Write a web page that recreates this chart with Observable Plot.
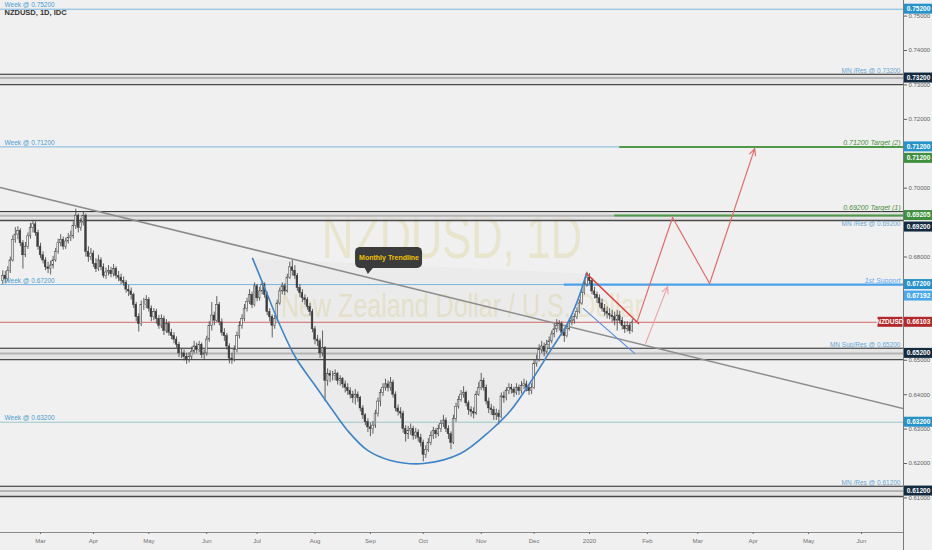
<!DOCTYPE html>
<html><head><meta charset="utf-8">
<script src="https://cdn.jsdelivr.net/npm/d3@7"></script>
<script src="https://cdn.jsdelivr.net/npm/@observablehq/plot@0.6"></script>
<style>
html,body{margin:0;padding:0;background:#f0f0f0;overflow:hidden}
#chart svg{display:block}
</style></head><body><div id="chart"></div>
<script>
// ---------- DATA (prices in pips, daily bars from firstBarDate, weekdays) ----------
const firstBarDate = "2019-02-08";
const firstOpen = 6730;
const closes = [6745,
6735,6760,6790,6850,6865, 6875,6840,6805,6830,6860, 6885,6895,6870,6830,6805,
6790,6770,6765,6775,6790, 6815,6840,6850,6830,6845, 6855,6860,6890,6920,6885, 6900,6920,6815,6800,6810,
6780,6765,6790,6770,6745, 6755,6760,6750,6765,6745, 6740,6730,6725,6705,6700, 6690,6660,6625,6605,6660,
6660,6675,6650,6625,6640, 6620,6600,6620,6585,6605, 6580,6570,6560,6545,6520, 6520,6510,6500,6510,6525,
6540,6530,6545,6515,6520, 6560,6600,6630,6615,6660, 6610,6580,6570,6540,6505, 6500,6530,6570,6600,6620,
6650,6670,6690,6660,6715, 6680,6700,6720,6690,6640, 6625,6600,6620,6665,6700, 6715,6700,6740,6770,6760,
6745,6710,6695,6680,6675, 6655,6640,6590,6560,6555, 6520,6535,6440,6460,6455, 6455,6460,6440,6445,6430,
6420,6410,6400,6390,6400, 6390,6360,6340,6320,6305, 6300,6310,6345,6380,6405, 6420,6430,6420,6435,6400,
6360,6350,6345,6300,6285, 6295,6300,6280,6290,6275, 6260,6225,6240,6260,6280, 6295,6285,6300,6315,6325,
6300,6285,6260,6330,6365, 6385,6400,6405,6375,6355, 6350,6345,6400,6420,6440, 6420,6380,6360,6355,6340,
6345,6335,6395,6390,6410, 6420,6415,6405,6420,6410, 6425,6430,6420,6410,6420, 6490,6500,6530,6540,6525,
6545,6555,6575,6590,6600, 6605,6580,6570,6590,6610, 6615,6625,6640,6665,6695, 6720,6740,6730,6700,6690,
6680,6665,6650,6640,6635, 6630,6625,6615,6630,6615, 6600,6590,6600,6585,6610];
const highs = [6760,
6758,6772,6800,6862,6885, 6888,6882,6848,6842,6870, 6898,6905,6902,6878,6840,
6815,6798,6785,6788,6802, 6825,6852,6865,6858,6855, 6868,6875,6902,6939,6925, 6912,6930,6925,6830,6825,
6818,6795,6805,6798,6780, 6768,6775,6770,6778,6772, 6758,6750,6742,6732,6718, 6710,6695,6668,6635,6672,
6680,6688,6682,6658,6650, 6648,6630,6632,6628,6618, 6612,6590,6580,6568,6552, 6532,6530,6520,6522,6538,
6555,6550,6555,6550,6530, 6570,6612,6668,6640,6685, 6668,6620,6592,6578,6548, 6520,6542,6582,6612,6632,
6662,6680,6705,6698,6725, 6720,6712,6728,6725,6698, 6650,6632,6630,6675,6710, 6725,6722,6750,6785,6790,
6775,6752,6720,6705,6690, 6682,6665,6648,6598,6572, 6562,6585,6540,6475,6470, 6468,6472,6465,6455,6450,
6440,6432,6420,6410,6415, 6408,6395,6368,6345,6330, 6318,6322,6355,6390,6415, 6432,6445,6440,6450,6442,
6408,6370,6362,6352,6310, 6308,6315,6308,6302,6298, 6285,6268,6252,6272,6292, 6305,6302,6312,6325,6340,
6332,6310,6292,6340,6375, 6395,6412,6423,6410,6382, 6365,6362,6410,6435,6462, 6448,6428,6390,6372,6365,
6358,6355,6405,6408,6420, 6432,6430,6422,6432,6428, 6438,6445,6440,6428,6432, 6500,6515,6545,6555,6550,
6558,6568,6585,6605,6618, 6615,6612,6590,6602,6620, 6628,6635,6652,6675,6705, 6732,6756,6752,6738,6712,
6698,6690,6678,6662,6655, 6650,6645,6640,6645,6642, 6625,6612,6612,6608,6618];
const lows = [6720,
6722,6728,6752,6785,6840, 6850,6830,6765,6798,6822, 6852,6870,6860,6820,6795,
6780,6760,6752,6748,6765, 6785,6808,6830,6820,6822, 6838,6845,6852,6880,6870, 6875,6890,6800,6785,6790,
6770,6755,6758,6760,6738, 6735,6745,6740,6742,6735, 6728,6720,6715,6695,6685, 6675,6650,6612,6582,6598,
6645,6650,6640,6612,6615, 6605,6590,6592,6572,6578, 6570,6560,6548,6535,6508, 6505,6498,6488,6492,6500,
6518,6520,6522,6505,6500, 6512,6552,6585,6600,6610, 6600,6570,6555,6530,6490, 6488,6495,6522,6562,6590,
6612,6640,6662,6650,6655, 6670,6672,6690,6680,6630, 6612,6565,6590,6612,6660, 6690,6688,6695,6735,6745,
6735,6700,6682,6668,6660, 6645,6628,6580,6545,6540, 6505,6510,6380,6425,6435, 6440,6440,6428,6425,6418,
6405,6398,6388,6375,6370, 6378,6350,6328,6310,6290, 6278,6285,6302,6335,6365, 6395,6410,6408,6410,6390,
6350,6338,6330,6288,6262, 6270,6282,6268,6270,6262, 6248,6205,6215,6232,6252, 6270,6272,6278,6290,6305,
6290,6270,6240,6255,6320, 6358,6378,6390,6365,6340, 6335,6330,6340,6395,6412, 6410,6370,6345,6340,6325,
6325,6312,6330,6375,6382, 6400,6402,6392,6398,6398, 6402,6415,6408,6398,6400, 6415,6480,6495,6520,6510,
6518,6535,6548,6565,6580, 6585,6570,6552,6565,6585, 6600,6605,6618,6635,6660, 6690,6712,6720,6690,6678,
6665,6652,6640,6628,6620, 6618,6610,6600,6585,6605, 6588,6578,6582,6575,6580];

// time axis
const monthStarts = ["2019-03-01","2019-04-01","2019-05-01","2019-06-01","2019-07-01","2019-08-01","2019-09-01","2019-10-01","2019-11-01","2019-12-01","2020-01-01","2020-02-01","2020-03-01","2020-04-01","2020-05-01","2020-06-01"];
const monthLabels = ["Mar","Apr","May","Jun","Jul","Aug","Sep","Oct","Nov","Dec","2020","Feb","Mar","Apr","May","Jun"];
const priceTicks = [0.61,0.62,0.63,0.64,0.65,0.66,0.67,0.68,0.69,0.70,0.71,0.72,0.73,0.74,0.75];

// visible window (bar numbers from 2019-03-01, price)
const xView = [-15.9, 342.7];
const yView = [0.59996, 0.75453];

// levels
const weekLevels = [0.752, 0.712, 0.672, 0.632];
const weekLabels = ["Week @ 0.75200","Week @ 0.71200","Week @ 0.67200","Week @ 0.63200"];
const mnLevels = [0.732, 0.692, 0.652, 0.612];
const mnTops = [0.7331, 0.6932, 0.6535, 0.6134];
const mnBottoms = [0.7301, 0.6906, 0.6502, 0.6104];
const mnLabels = ["MN /Res @ 0.73200","MN /Res @ 0.69200","MN Sup/Res @ 0.65200","MN /Res @ 0.61200"];
const targetLevels = [0.712, 0.69205];
const targetLabels = ["0.71200 Target (2)","0.69200 Target (1)"];
const targetStarts = ["2020-01-17","2020-01-15"];
const supportLevel = 0.672, supportLabel = "1st Support", supportStart = "2019-12-18";
const lastPrice = 0.66103, symbol = "NZDUSD";

// drawings
const trendDates = ["2019-02-07","2020-06-24"];
const trendPrices = [0.7002, 0.6359];
const cupBars = [84.2,89.4,95.3,101.3,108.4,115.2,121.9,129.9,139.0,152.1,166.8,178.7,186.7,195.8,202.5,209.3,213.3,216.8];
const cupPrices = [0.6796,0.6703,0.6598,0.6508,0.6433,0.6363,0.6296,0.6238,0.6209,0.6200,0.6229,0.6296,0.6354,0.6450,0.6528,0.6607,0.6674,0.6752];
const redWedgeBars = [216.8, 237.5], redWedgePrices = [0.6752, 0.6607];
const blueWedgeBars = [215.6, 235.9], blueWedgePrices = [0.6650, 0.6520];
const pathBars = [237.1, 251.0, 265.7, 283.6], pathPrices = [0.6616, 0.6915, 0.6723, 0.7115];
const altBars = [240.3, 249.0], altPrices = [0.6549, 0.6714];
const noteText = "Monthly Trendline";
const noteBars = [125.1, 151.7], notePrices = [0.6767, 0.6828];
const tailBars = [128.6, 132.2, 130.0], tailPrices = [0.6770, 0.6770, 0.6751];

// axis price tags
const tagValues = [0.752, 0.732, 0.712, 0.712, 0.69205, 0.692, 0.672, 0.67192, 0.66103, 0.652, 0.632, 0.612];
const tagTexts = ["0.75200","0.73200","0.71200","0.71200","0.69205","0.69200","0.67200","0.67192","0.66103","0.65200","0.63200","0.61200"];
const tagKinds = ["week","mn","week","target","target","mn","week","support","price","mn","week","mn"];

// ---------- BUILD ----------
const origin = new Date(Date.UTC(2019, 2, 1));
const isWeekday = d => d.getUTCDay() !== 0 && d.getUTCDay() !== 6;
function barIndex(s) {
  let t = new Date(s + "T00:00:00Z");
  while (!isWeekday(t)) t = d3.utcDay.offset(t, 1);
  if (t >= origin) return d3.utcDays(origin, t).filter(isWeekday).length;
  return -d3.utcDays(t, origin).filter(isWeekday).length;
}
const pip = v => v / 10000;
const first = barIndex(firstBarDate);
const candles = closes.map((c, k) => {
  const o = k === 0 ? firstOpen : closes[k - 1];
  return {x: first + k, open: pip(o), close: pip(c),
    high: pip(Math.max(highs[k], o, c)), low: pip(Math.min(lows[k], o, c)), up: c >= o};
});
const monthIdx = monthStarts.map(barIndex);
const monthMap = new Map(monthIdx.map((d, i) => [d, monthLabels[i]]));
const zones = mnLevels.map((l, i) => ({level: l, top: mnTops[i], bottom: mnBottoms[i], label: mnLabels[i]}));
const trend = trendDates.map((d, i) => ({x: barIndex(d), y: trendPrices[i]}));
const pair = (xs, ys) => xs.map((x, i) => ({x, y: ys[i]}));
const cup = pair(cupBars, cupPrices);
const pathPts = pair(pathBars, pathPrices);
const FONT = "Liberation Sans, Arial, sans-serif";
const blueLbl = "#4a9cd0";

// tag layout (top-down, pushed apart like the platform does)
const tags = tagValues.map((v, i) => ({v, t: tagTexts[i], k: tagKinds[i], i}))
  .sort((a, b) => b.v - a.v || a.i - b.i);
const yPix = v => (yView[1] - v) / (yView[1] - yView[0]) * 532;
{
  let prev = -Infinity;
  for (const tag of tags) { let y = yPix(tag.v); if (y < prev + 11.5) y = prev + 11.5; tag.py = y; prev = y; }
}
const shownTicks = priceTicks.filter(v => tags.every(t => Math.abs(t.py - yPix(v)) >= 6));

const plot = Plot.plot({
  width: 932, height: 550,
  marginLeft: 0, marginRight: 29, marginTop: 0, marginBottom: 18,
  style: {background: "#f0f0f0", fontFamily: FONT, overflow: "visible"},
  x: {domain: xView, label: null},
  y: {domain: yView, label: null},
  marks: [
    // watermark
    Plot.text(["NZDUSD, 1D"], {frameAnchor: "top", dy: 257, lineAnchor: "bottom", fontSize: 62, fill: "#e2d9aa", fillOpacity: 0.5}),
    Plot.text(["New Zealand Dollar / U.S. Dollar"], {frameAnchor: "top", dx: 10, dy: 316, lineAnchor: "bottom", fontSize: 34, fill: "#e2d9aa", fillOpacity: 0.5}),
    // cup shading
    Plot.line(cup, {x: "x", y: "y", curve: "catmull-rom", stroke: "none", fill: "#000", fillOpacity: 0.02}),
    // monthly zones
    Plot.rect(zones, {x1: xView[0], x2: xView[1], y1: "bottom", y2: "top", fill: "#dedede", fillOpacity: 0.7}),
    Plot.ruleY(zones, {y: "level", stroke: "#b4b4b4", strokeWidth: 2}),
    Plot.ruleY(zones, {y: "top", stroke: "#2a2a2a", strokeWidth: 1}),
    Plot.ruleY(zones, {y: "bottom", stroke: "#4a4a4a", strokeWidth: 1.4}),
    // weekly lines
    Plot.ruleY(weekLevels, {stroke: (d, i) => i === 3 ? "#9cc4c8" : "#7db6de", strokeWidth: 1}),
    // price line
    Plot.ruleY([lastPrice], {stroke: "#c84848", strokeWidth: 0.8}),
    // support
    Plot.ruleY([supportLevel], {x1: barIndex(supportStart), x2: xView[1], stroke: "#4aa2ea", strokeWidth: 2.2}),
    // targets
    Plot.ruleY(targetLevels, {x1: (d, i) => barIndex(targetStarts[i]), x2: xView[1], stroke: "#4f9a4a", strokeWidth: 2}),
    // monthly trendline
    Plot.line(trend, {x: "x", y: "y", stroke: "#8c8c8c", strokeWidth: 1.6, clip: true}),
    // candles
    Plot.ruleX(candles, {x: "x", y1: "low", y2: "high", stroke: "#3c3c3c", strokeWidth: 0.8}),
    Plot.rect(candles.filter(d => d.up), {x1: d => d.x - 0.33, x2: d => d.x + 0.33, y1: "open", y2: "close", fill: "#f2f2f2", stroke: "#3c3c3c", strokeWidth: 0.5}),
    Plot.rect(candles.filter(d => !d.up), {x1: d => d.x - 0.33, x2: d => d.x + 0.33, y1: "open", y2: "close", fill: "#3c3c3c", stroke: "#3c3c3c", strokeWidth: 0.5}),
    // cup curve and wedges
    Plot.line(cup, {x: "x", y: "y", curve: "catmull-rom", stroke: "#3d84c8", strokeWidth: 1.6}),
    Plot.line(pair(blueWedgeBars, blueWedgePrices), {x: "x", y: "y", stroke: "#5b8fe0", strokeWidth: 1.2}),
    Plot.line(pair(redWedgeBars, redWedgePrices), {x: "x", y: "y", stroke: "#e03a36", strokeWidth: 1.5}),
    // projected paths
    Plot.line(pathPts.slice(0, 3), {x: "x", y: "y", stroke: "#e46a6a", strokeWidth: 1.2}),
    Plot.arrow([0], {x1: pathPts[2].x, y1: pathPts[2].y, x2: pathPts[3].x, y2: pathPts[3].y, stroke: "#e46a6a", strokeWidth: 1.2, headLength: 9, headAngle: 50}),
    Plot.arrow([0], {x1: altBars[0], y1: altPrices[0], x2: altBars[1], y2: altPrices[1], stroke: "#f0a2aa", strokeWidth: 1.2, headLength: 9, headAngle: 50}),
    // level labels
    Plot.text(weekLevels, {frameAnchor: "left", y: d => d, text: (d, i) => weekLabels[i], textAnchor: "start", dx: 4, lineAnchor: "bottom", dy: -2, fontSize: 6.5, fill: blueLbl}),
    Plot.text(zones.filter((d, i) => i !== 1), {frameAnchor: "right", y: "top", text: "label", textAnchor: "end", dx: -3, lineAnchor: "bottom", dy: -1, fontSize: 6.5, fill: "#6aa6d2"}),
    Plot.text(zones.filter((d, i) => i === 1), {frameAnchor: "right", y: "bottom", text: "label", textAnchor: "end", dx: -3, lineAnchor: "top", dy: 0.5, fontSize: 6.5, fill: "#6aa6d2"}),
    Plot.text([targetLevels[0], mnTops[1]], {frameAnchor: "right", y: d => d, text: (d, i) => targetLabels[i], textAnchor: "end", dx: -3, lineAnchor: "bottom", dy: -2, fontSize: 7, fontStyle: "italic", fill: "#4a8f3c"}),
    Plot.text([supportLevel], {frameAnchor: "right", y: d => d, text: [supportLabel], textAnchor: "end", dx: -3, lineAnchor: "bottom", dy: -2, fontSize: 7, fontStyle: "italic", fill: "#5aaaf0"}),
    // note bubble
    Plot.rect([0], {x1: noteBars[0], x2: noteBars[1], y1: notePrices[0], y2: notePrices[1], fill: "#3b3b3b", rx: 5}),
    Plot.line(pair(tailBars, tailPrices), {x: "x", y: "y", fill: "#3b3b3b", stroke: "none"}),
    Plot.text([noteText], {x: (noteBars[0] + noteBars[1]) / 2, y: (notePrices[0] + notePrices[1]) / 2, fontSize: 7, fontWeight: "bold", fill: "#f2c200"}),
    // header
    Plot.text(["NZDUSD, 1D, IDC"], {frameAnchor: "top-left", dx: 4, dy: 12, lineAnchor: "middle", textAnchor: "start", fontSize: 7.5, fontWeight: 600, fill: "#333"}),
    // axes
    Plot.ruleY([yView[0]], {stroke: "#8a8a8a", strokeWidth: 1}),
    Plot.axisX({ticks: monthIdx, tickFormat: d => monthMap.get(d), anchor: "bottom", tickSize: 2, tickPadding: 4, fontSize: 6, color: "#707070"}),
    Plot.axisY({ticks: shownTicks, tickFormat: d3.format(".5f"), anchor: "right", tickSize: 3, tickPadding: 2, fontSize: 6, color: "#606060"})
  ]
});

document.getElementById("chart").appendChild(plot);

// post: condensed watermark
const root = d3.select(plot);
root.selectAll("text").filter(function () { return this.textContent === "NZDUSD, 1D"; })
  .attr("textLength", 260).attr("lengthAdjust", "spacingAndGlyphs");
root.selectAll("text").filter(function () { return this.textContent === "New Zealand Dollar / U.S. Dollar"; })
  .attr("textLength", 362).attr("lengthAdjust", "spacingAndGlyphs");

// right axis line
const xs = plot.scale("x"), ys = plot.scale("y");
const axX = Math.round(xs.apply(xView[1])) + 0.5;
root.append("line").attr("x1", axX).attr("x2", axX).attr("y1", 0).attr("y2", 550).attr("stroke", "#7a7a7a");

// price tags on axis
const kindColor = {week: "#2792c9", mn: "#142a3e", target: "#3f8f3f", support: "#4aa8ef", price: "#b5282a"};
const g = root.append("g").attr("font-family", FONT).attr("font-size", 6.5).attr("font-weight", "bold");
for (const tag of tags) {
  const y = Math.max(ys.apply(tag.v), tag.py);
  g.append("rect").attr("x", axX + 0.5).attr("y", y - 5).attr("width", 932 - axX).attr("height", 10).attr("fill", kindColor[tag.k]);
  g.append("text").attr("x", axX + 15).attr("y", y).attr("dy", "0.35em").attr("text-anchor", "middle").attr("fill", "#fff").text(tag.t);
  if (tag.k === "price") {
    g.append("rect").attr("x", axX - 26).attr("y", y - 5).attr("width", 25).attr("height", 10).attr("fill", kindColor.price);
    g.append("text").attr("x", axX - 13.5).attr("y", y).attr("dy", "0.35em").attr("text-anchor", "middle").attr("fill", "#fff").text(symbol);
  }
}
</script></body></html>
